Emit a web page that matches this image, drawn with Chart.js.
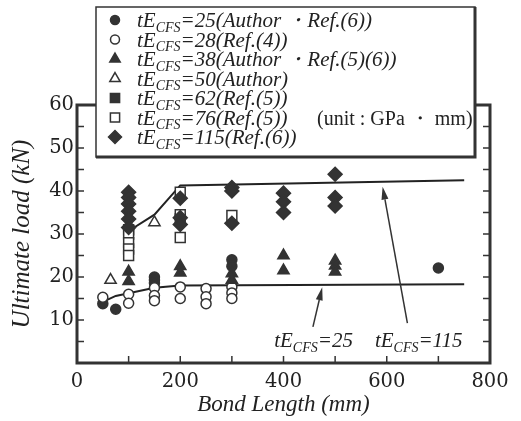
<!DOCTYPE html>
<html>
<head>
<meta charset="utf-8">
<script src="https://cdn.jsdelivr.net/npm/chart.js@4.4.1/dist/chart.umd.min.js"></script>
<style>
  html, body { margin: 0; padding: 0; background: #fff; }
</style>
</head>
<body>
<canvas id="chart" width="521" height="421"></canvas>
<script>
// legend names, "_CFS" is drawn as a subscript
const seriesNames = [
  'tE_CFS=25(Author ・Ref.(6))',
  'tE_CFS=28(Ref.(4))',
  'tE_CFS=38(Author ・Ref.(5)(6))',
  'tE_CFS=50(Author)',
  'tE_CFS=62(Ref.(5))',
  'tE_CFS=76(Ref.(5))',
  'tE_CFS=115(Ref.(6))'
];

// test results: bond length (mm) / ultimate load (kN)
const len25  = [50, 75, 150, 150, 150, 300, 300, 700];
const load25 = [13.8, 12.5, 20.0, 19.3, 18.6, 24.0, 22.5, 22.1];

const len28  = [50, 100, 100, 150, 150, 150, 200, 200, 250, 250, 250, 300, 300, 300];
const load28 = [15.3, 16.0, 13.9, 17.5, 15.7, 14.5, 17.7, 15.0, 17.3, 15.4, 13.8, 17.7, 16.3, 15.0];

const len38  = [100, 100, 200, 200, 300, 300, 400, 400, 500, 500, 500];
const load38 = [21.2, 19.0, 22.5, 21.0, 20.8, 19.3, 25.0, 21.5, 23.8, 22.6, 21.2];

const len50  = [65, 150];
const load50 = [19.3, 32.7];

const len62  = [100, 200];
const load62 = [31.0, 33.5];

const len76  = [100, 100, 100, 100, 200, 200, 200, 300];
const load76 = [30.0, 28.0, 26.5, 25.0, 39.7, 34.5, 29.2, 34.3];

const len115  = [100, 100, 100, 100, 100, 100, 200, 200, 200, 300, 300, 300, 400, 400, 400, 500, 500, 500];
const load115 = [39.7, 38.5, 37.0, 35.3, 33.5, 31.5, 38.3, 33.8, 32.2, 40.8, 40.0, 32.5, 39.5, 37.5, 35.0, 43.9, 38.5, 36.5];

// fitted curves
const fitLen25   = [50, 75, 100, 150, 200, 750];
const fitLoad25  = [14.2, 15.6, 16.2, 17.5, 18.0, 18.3];
const fitLen115  = [100, 150, 200, 750];
const fitLoad115 = [30.7, 34.5, 41.3, 42.5];

// curve labels
const curveNames = ['tE_CFS=25', 'tE_CFS=115'];

// axis ticks
const xTickValues = [0, 100, 200, 300, 400, 500, 600, 700, 800];
const xTickLabels = ['0', '', '200', '', '400', '', '600', '', '800'];
const yTickValues = [0, 5, 10, 15, 20, 25, 30, 35, 40, 45, 50, 55, 60];
const yTickLabels = ['', '', '10', '', '20', '', '30', '', '40', '', '50', '', '60'];

const ink = '#333';
const serif = '"Liberation Serif", "Times New Roman", serif';

const pts = (xs, ys) => xs.map((x, i) => ({ x, y: ys[i] }));

// marker look for each series, same order as seriesNames
const markers = [
  { pointStyle: 'circle',   radius: 5,   fill: ink },
  { pointStyle: 'circle',   radius: 5,   fill: '#fff' },
  { pointStyle: 'triangle', radius: 6.5, fill: ink },
  { pointStyle: 'triangle', radius: 6.5, fill: '#fff' },
  { pointStyle: 'rect',     radius: 7,   fill: ink },
  { pointStyle: 'rect',     radius: 7,   fill: '#fff' },
  { pointStyle: 'rectRot',  radius: 7,   fill: ink }
];
const seriesData = [
  pts(len25, load25), pts(len28, load28), pts(len38, load38), pts(len50, load50),
  pts(len62, load62), pts(len76, load76), pts(len115, load115)
];

// text with "_CFS" as subscript
function drawSubText(ctx, text, x, y, size) {
  const [head, tail] = text.split('_');
  const sub = tail.slice(0, 3);
  const rest = tail.slice(3);
  ctx.font = `italic ${size}px ${serif}`;
  ctx.fillText(head, x, y);
  x += ctx.measureText(head).width;
  ctx.font = `italic ${Math.round(size * 0.68)}px ${serif}`;
  ctx.fillText(sub, x, y + size * 0.22);
  x += ctx.measureText(sub).width;
  ctx.font = `italic ${size}px ${serif}`;
  ctx.fillText(rest, x, y);
}

function arrow(ctx, x1, y1, x2, y2) {
  const ang = Math.atan2(y2 - y1, x2 - x1);
  const len = 13, half = 3.5;
  const bx = x2 - Math.cos(ang) * len, by = y2 - Math.sin(ang) * len;
  ctx.beginPath();
  ctx.moveTo(x1, y1);
  ctx.lineTo(bx, by);
  ctx.stroke();
  ctx.beginPath();
  ctx.moveTo(x2, y2);
  ctx.lineTo(bx + Math.sin(ang) * half, by - Math.cos(ang) * half);
  ctx.lineTo(bx - Math.sin(ang) * half, by + Math.cos(ang) * half);
  ctx.closePath();
  ctx.fill();
}

const framePlugin = {
  id: 'frame',
  afterDraw(chart, args, opts) {
    const { ctx, chartArea: a, scales: { x, y } } = chart;
    ctx.save();
    ctx.strokeStyle = ink;
    ctx.fillStyle = ink;

    // inward ticks on all four sides
    ctx.lineWidth = 1.5;
    ctx.beginPath();
    x.ticks.forEach(t => {
      const px = x.getPixelForValue(t.value);
      ctx.moveTo(px, a.bottom); ctx.lineTo(px, a.bottom - 7);
      ctx.moveTo(px, a.top);    ctx.lineTo(px, a.top + 7);
    });
    y.ticks.forEach(t => {
      const py = y.getPixelForValue(t.value);
      ctx.moveTo(a.left, py);  ctx.lineTo(a.left + 7, py);
      ctx.moveTo(a.right, py); ctx.lineTo(a.right - 7, py);
    });
    ctx.stroke();

    // frame
    ctx.lineWidth = 3;
    ctx.strokeRect(a.left, a.top, a.right - a.left, a.bottom - a.top);

    // curve labels and arrows
    ctx.lineWidth = 1.5;
    opts.notes.forEach((n, i) => {
      arrow(ctx,
        x.getPixelForValue(n.from[0]), y.getPixelForValue(n.from[1]),
        x.getPixelForValue(n.to[0]), y.getPixelForValue(n.to[1]));
      ctx.fillStyle = '#222';
      drawSubText(ctx, curveNames[i], x.getPixelForValue(n.text[0]), y.getPixelForValue(n.text[1]), 21);
      ctx.fillStyle = ink;
    });

    // legend box
    const b = opts.box;
    ctx.fillStyle = '#fff';
    ctx.fillRect(b.left, b.top, b.right - b.left, b.bottom - b.top);
    ctx.lineWidth = 1.5;
    ctx.strokeRect(b.left, b.top, b.right - b.left, b.bottom - b.top);
    ctx.lineWidth = 3;
    ctx.beginPath();
    ctx.moveTo(b.right, b.top);
    ctx.lineTo(b.right, b.bottom);
    ctx.lineTo(b.left, b.bottom);
    ctx.stroke();

    // legend rows
    seriesNames.forEach((name, i) => {
      const cy = b.rowTop + i * b.rowStep;
      const m = markers[i];
      ctx.fillStyle = m.fill;
      ctx.strokeStyle = ink;
      ctx.lineWidth = 1.5;
      Chart.helpers.drawPoint(ctx, { pointStyle: m.pointStyle, radius: m.radius - 0.5, rotation: 0, borderWidth: 1.5 }, b.markerX, cy);
      ctx.fillStyle = '#222';
      drawSubText(ctx, name, b.textX, cy + 7, 21);
    });

    ctx.font = `20px ${serif}`;
    ctx.fillStyle = '#222';
    ctx.fillText('(unit : GPa ・ mm)', b.unitX, b.unitY);
    ctx.restore();
  }
};

const datasets = seriesData.map((data, i) => ({
  label: seriesNames[i],
  data,
  pointStyle: markers[i].pointStyle,
  pointRadius: markers[i].radius,
  pointBackgroundColor: markers[i].fill,
  pointBorderColor: ink,
  pointBorderWidth: 1.5,
  showLine: false,
  order: 7 - i
}));
datasets.push(
  { label: 'fit25', data: pts(fitLen25, fitLoad25), showLine: true, pointRadius: 0,
    borderColor: '#222', borderWidth: 2, order: 10 },
  { label: 'fit115', data: pts(fitLen115, fitLoad115), showLine: true, pointRadius: 0,
    borderColor: '#222', borderWidth: 2, order: 10 }
);

new Chart(document.getElementById('chart'), {
  type: 'scatter',
  data: { datasets },
  options: {
    responsive: false,
    animation: false,
    devicePixelRatio: 1,
    layout: { padding: { left: 0, top: 105, right: 31, bottom: 0 } },
    plugins: {
      legend: { display: false },
      tooltip: { enabled: false },
      frame: {
        notes: [
          { from: [457, 8.4], to: [475, 17.6], text: [382, 3.7] },
          { from: [640, 9.3], to: [592, 41.0], text: [577, 3.7] }
        ],
        box: { left: 96, top: 7, right: 475, bottom: 157, rowTop: 20, rowStep: 19.5,
               markerX: 115, textX: 137, unitX: 317, unitY: 125 }
      }
    },
    scales: {
      x: {
        type: 'linear', min: 0, max: 800,
        afterFit: s => { s.height = 58; },
        afterBuildTicks: s => { s.ticks = xTickValues.map(value => ({ value })); },
        grid: { display: false, drawTicks: false },
        border: { display: false },
        ticks: {
          padding: 7, color: '#222', maxRotation: 0, autoSkip: false,
          font: { family: '"DejaVu Serif"', size: 19.5 },
          callback: (v, i) => xTickLabels[i]
        },
        title: {
          display: true, text: 'Bond Length (mm)', color: '#222',
          font: { family: serif, size: 23, style: 'italic' },
          padding: { top: 0, bottom: 2 }
        }
      },
      y: {
        type: 'linear', min: 0, max: 60,
        afterFit: s => { s.width = 77; },
        afterBuildTicks: s => { s.ticks = yTickValues.map(value => ({ value })); },
        grid: { display: false, drawTicks: false },
        border: { display: false },
        ticks: {
          padding: 3, color: '#222', autoSkip: false,
          font: { family: '"DejaVu Serif"', size: 19.5 },
          callback: (v, i) => yTickLabels[i]
        },
        title: {
          display: true, text: 'Ultimate load (kN)', color: '#222',
          font: { family: serif, size: 25, style: 'italic' },
          padding: { top: 7, bottom: 0 }
        }
      }
    }
  },
  plugins: [framePlugin]
});
</script>
</body>
</html>
